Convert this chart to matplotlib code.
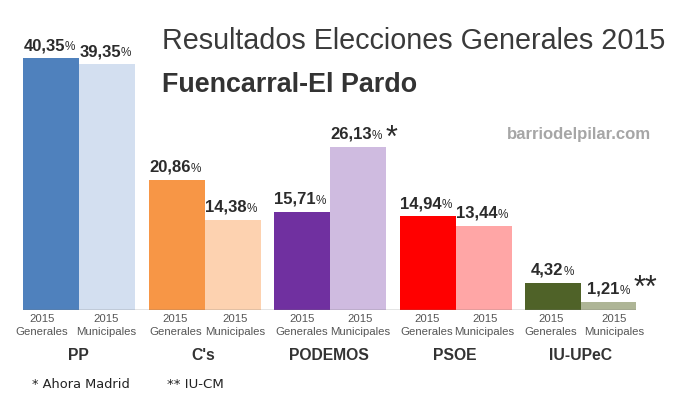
# Resultados Elecciones Generales 2015 - Fuencarral-El Pardo
import matplotlib
matplotlib.use('Agg')
import matplotlib.pyplot as plt

parties = ['PP', "C's", 'PODEMOS', 'PSOE', 'IU-UPeC']
generales = [40.35, 20.86, 15.71, 14.94, 4.32]
municipales = [39.35, 14.38, 26.13, 13.44, 1.21]
colors_gen = ['#4f81bd', '#f79646', '#7030a0', '#ff0000', '#4f6228']
colors_mun = ['#d3dff0', '#fdd2b0', '#cfbbe0', '#ffa6a6', '#aeb596']
marks = ['', '', '*', '', '**']
sublabels = ['2015\nGenerales', '2015\nMunicipales']

W, H = 680, 400
plt.rcParams['font.family'] = ['Liberation Sans', 'DejaVu Sans']

fig = plt.figure(figsize=(W / 100, H / 100), dpi=100)
# axes box in pixels: x 23-636, baseline at y=309.5
ax = fig.add_axes([23 / W, (H - 309.5) / H, 613 / W, 280 / H])
ax.set_xlim(-0.223, 4.66)
ax.set_ylim(0, 280 / 6.23)
ax.axis('off')

BAR = 0.446
# hand tweaks (pixels) for the small labels under the bars
shift_gen = [-9, -1, 0, -1, -2]
shift_mun = [-1, 3, 2, 1, 5]


def value_label(x, val):
    txt = ('%.2f' % val).replace('.', ',')
    dx = 14 if val >= 10 else 10
    ax.annotate(txt, (x, val), xytext=(dx, 5), textcoords='offset pixels', ha='right', va='bottom',
                fontsize=12, fontweight='bold', color='#2b2b2b')
    ax.annotate('%', (x, val), xytext=(dx, 5), textcoords='offset pixels', ha='left', va='bottom',
                fontsize=8.5, color='#2b2b2b')


for i in range(len(parties)):
    ax.bar(i, generales[i], BAR, color=colors_gen[i], linewidth=0)
    ax.bar(i + BAR, municipales[i], BAR, color=colors_mun[i], linewidth=0)

    value_label(i, generales[i])
    value_label(i + BAR, municipales[i])

    if marks[i]:
        if marks[i] == '*':
            dx, dy = 28, -7
        else:
            dx, dy = 24, -2
        ax.annotate(marks[i], (i + BAR, municipales[i]), xytext=(dx, dy), textcoords='offset pixels',
                    ha='left', va='bottom', fontsize=22, color='#2b2b2b')

    ax.annotate(sublabels[0], (i, 0), xytext=(shift_gen[i], -4), textcoords='offset pixels',
                ha='center', va='top', fontsize=8.2, color='#555555', linespacing=1.4)
    ax.annotate(sublabels[1], (i + BAR, 0), xytext=(shift_mun[i], -4), textcoords='offset pixels',
                ha='center', va='top', fontsize=8.2, color='#555555', linespacing=1.4)

    ax.annotate(parties[i], (i + BAR / 2, 0), xytext=(-1, -38), textcoords='offset pixels',
                ha='center', va='top', fontsize=11.3, fontweight='bold', color='#333333')

ax.axhline(0, color='#777777', lw=1)

fig.text(162 / W, 1 - 41 / H, 'Resultados Elecciones Generales 2015', fontsize=20.7,
         color='#3a3a3a', ha='left', va='center')
fig.text(162 / W, 1 - 85 / H, 'Fuencarral-El Pardo', fontsize=19.4, fontweight='bold',
         color='#333333', ha='left', va='center')
fig.text(651 / W, 1 - 134 / H, 'barriodelpilar.com', fontsize=12.1, fontweight='bold',
         color='#a6a6a6', ha='right', va='center')
fig.text(32 / W, 1 - 385 / H, '* Ahora Madrid', fontsize=9.4, family='DejaVu Sans',
         color='#222222', ha='left', va='center')
fig.text(167 / W, 1 - 384 / H, '** IU-CM', fontsize=9.6, family='DejaVu Sans',
         color='#222222', ha='left', va='center')

fig.savefig('out.png', dpi=100)
